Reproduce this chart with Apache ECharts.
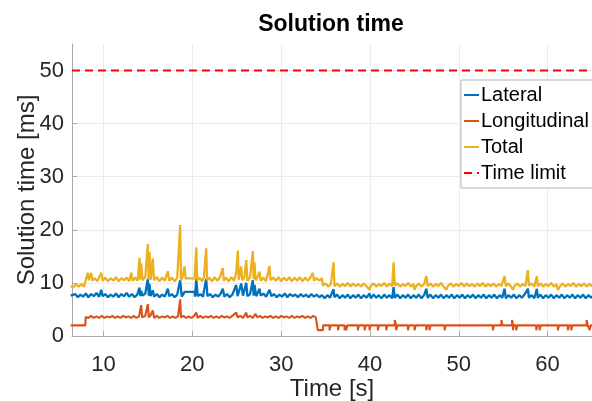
<!DOCTYPE html>
<html>
<head>
<meta charset="utf-8">
<script src="https://cdn.jsdelivr.net/npm/echarts@6/dist/echarts.min.js"></script>
<style>
  html, body { margin: 0; padding: 0; background: #fff; }
  #chart { width: 592px; height: 401px; }
</style>
</head>
<body>
<div id="chart"></div>
<script>
// solution time per controller, [time s, ms]
const lateral = [
  [6.3,7.6],[6.5,7.4],[6.8,7.9],[7.1,7.3],[7.4,7.8],[7.7,7.4],[8.0,8.0],[8.3,7.3],[8.6,7.9],[8.9,7.5],
  [9.2,8.1],[9.5,7.4],[9.74,8.7],[9.9,7.5],[10.2,7.9],[10.5,7.3],[10.8,7.8],[11.1,7.4],[11.4,8.0],[11.7,7.3],
  [12.0,7.9],[12.3,7.5],[12.6,8.1],[12.9,7.4],[13.2,7.9],[13.5,7.3],[13.8,7.8],[14.05,9.1],[14.15,7.5],[14.24,8.5],
  [14.4,7.6],[14.7,8.0],[14.99,10.8],[15.1,7.6],[15.18,9.8],[15.3,7.5],[15.55,8.6],[15.7,7.4],[16.0,7.9],[16.3,7.3],
  [16.6,7.8],[16.9,7.4],[17.24,8.9],[17.4,7.5],[17.7,7.9],[18.0,7.3],[18.3,7.8],[18.63,10.5],[18.8,7.4],[19.0,7.9],
  [19.1,8.3],[20.25,8.3],[20.3,7.4],[20.44,10.8],[20.6,7.5],[20.9,7.9],[21.2,7.4],[21.56,10.8],[21.7,7.5],[22.0,7.9],
  [22.3,7.3],[22.6,7.8],[22.9,7.4],[23.2,8.0],[23.43,8.9],[23.6,7.4],[23.9,7.9],[24.2,7.3],[24.5,7.8],[24.94,9.6],
  [25.1,7.5],[25.5,9.9],[25.7,7.6],[26.07,10.0],[26.2,7.5],[26.5,7.9],[26.81,10.5],[26.9,7.6],[27.0,9.6],[27.2,7.5],
  [27.56,8.9],[27.7,7.6],[28.0,8.0],[28.3,7.4],[28.69,8.7],[28.9,7.5],[29.2,7.9],[29.5,7.3],[29.8,7.8],[30.1,7.4],
  [30.4,8.0],[30.7,7.3],[31.0,7.9],[31.3,7.5],[31.6,7.8],[31.9,7.3],[32.2,7.9],[32.5,7.4],[32.8,7.8],[33.1,7.3],
  [33.4,7.9],[33.7,7.4],[34.0,7.8],[34.3,7.3],[34.6,7.7],[34.9,7.1],[35.2,7.7],[35.5,7.2],[35.9,8.8],[36.0,7.3],
  [36.3,7.8],[36.6,7.1],[36.9,7.7],[37.2,7.2],[37.5,7.8],[37.8,7.1],[38.1,7.7],[38.4,7.2],[38.7,7.8],[39.0,7.1],
  [39.3,7.7],[39.6,7.2],[39.95,8.0],[40.1,7.1],[40.4,7.8],[40.7,7.2],[41.0,7.7],[41.3,7.1],[41.6,7.8],[41.9,7.2],
  [42.2,7.7],[42.5,7.1],[42.66,9.2],[42.8,7.2],[43.1,7.8],[43.4,7.1],[43.7,7.7],[44.0,7.2],[44.3,7.8],[44.6,7.1],
  [44.9,7.7],[45.2,7.2],[45.5,7.8],[45.8,7.1],[46.1,7.7],[46.34,8.9],[46.5,7.2],[46.8,7.8],[47.1,7.1],[47.4,7.7],
  [47.7,7.2],[48.0,7.8],[48.3,7.1],[48.6,7.7],[48.9,7.2],[49.2,7.8],[49.5,7.1],[49.8,7.7],[50.1,7.2],[50.4,7.8],
  [50.7,7.1],[51.0,7.7],[51.3,7.2],[51.6,7.8],[51.9,7.1],[52.2,7.7],[52.5,7.2],[52.8,7.8],[53.1,7.1],[53.4,7.7],
  [53.7,7.2],[54.0,7.8],[54.3,7.1],[54.6,7.7],[54.9,7.2],[55.15,8.9],[55.3,7.1],[55.6,7.7],[55.9,7.2],[56.2,7.8],
  [56.5,7.1],[56.8,7.7],[57.1,7.2],[57.4,7.8],[57.78,8.9],[57.9,7.2],[58.2,7.7],[58.5,7.1],[58.79,8.9],[58.9,7.2],
  [59.2,7.8],[59.5,7.1],[59.8,7.7],[60.1,7.2],[60.4,7.8],[60.7,7.1],[61.0,7.7],[61.3,7.2],[61.6,7.8],[61.9,7.1],
  [62.2,7.7],[62.5,7.2],[62.8,7.8],[63.1,7.1],[63.4,7.7],[63.7,7.2],[64.0,7.8],[64.3,7.1],[64.6,7.7],[64.9,7.2],
  [65.2,7.7]
];

const longitudinalHead = [
  [6.3,2.0],[7.95,2.0],[8.0,3.6],[8.3,3.4],[8.6,3.8],[8.9,3.4],[9.2,3.7],[9.5,3.4],[9.8,3.8],[10.1,3.4],
  [10.4,3.7],[10.7,3.5],[11.0,3.8],[11.3,3.4],[11.6,3.7],[11.9,3.4],[12.2,3.8],[12.5,3.5],[12.8,3.7],[13.1,3.4],
  [13.4,3.8],[13.7,3.4],[14.0,3.7],[14.24,5.8],[14.35,3.5],[14.7,3.8],[14.99,6.0],[15.1,3.5],[15.3,3.9],[15.55,4.8],
  [15.7,3.4],[16.0,3.8],[16.3,3.4],[16.6,3.7],[16.9,3.5],[17.2,3.8],[17.5,3.4],[17.8,3.7],[18.1,3.4],[18.4,3.8],
  [18.63,6.9],[18.72,3.5],[19.0,3.8],[19.3,3.4],[19.6,3.7],[19.9,3.4],[20.2,3.8],[20.44,4.4],[20.6,3.4],[20.9,3.8],
  [21.2,3.4],[21.5,3.7],[21.8,3.5],[22.1,3.8],[22.4,3.4],[22.7,3.7],[23.0,3.4],[23.3,3.8],[23.6,3.5],[23.9,3.7],
  [24.2,3.4],[24.5,3.8],[24.94,4.4],[25.1,3.5],[25.4,3.8],[25.7,3.4],[26.07,4.4],[26.2,3.5],[26.5,3.8],[26.8,3.4],
  [27.1,4.2],[27.3,3.5],[27.6,3.8],[27.9,3.4],[28.2,3.7],[28.5,3.5],[28.8,3.8],[29.1,3.4],[29.4,3.7],[29.7,3.4],
  [30.0,3.8],[30.3,3.5],[30.6,3.7],[30.9,3.4],[31.2,3.8],[31.5,3.4],[31.8,3.7],[32.1,3.5],[32.4,3.8],[32.7,3.4],
  [33.0,3.7],[33.3,3.4],[33.6,3.8],[33.9,3.5],[34.1,3.6],[34.12,1.1],[34.7,1.1],[34.72,2.0]
];
// after 34.7 s the longitudinal time sits on 2 ms with single-sample jumps
const longitudinalBase = 2.0;
const longitudinalJumps = [
  [35.45,1.1],[36.4,1.1],[37.14,1.1],[37.33,1.1],[38.63,1.1],[39.39,1.1],[39.95,1.1],[40.89,1.1],[41.83,1.1],
  [42.8,3.0],[42.96,1.1],[44.27,1.1],[45.02,1.1],[46.34,1.1],[46.71,1.1],[48.4,1.1],[53.84,1.1],[54.8,3.0],
  [56.0,3.0],[56.09,1.1],[56.47,1.1],[58.72,1.1],[59.1,1.1],[61.16,1.1],[62.28,1.1],[62.66,1.1],[64.4,3.0],[64.73,1.1]
];
const longitudinalEnd = 65.2;

const total = [
  [6.3,9.4],[6.6,9.2],[6.9,9.7],[7.2,9.3],[7.5,9.8],[7.8,9.3],[8.0,10.6],[8.23,11.9],[8.35,10.5],[8.61,11.9],
  [8.75,10.4],[9.0,10.9],[9.3,10.3],[9.5,11.0],[9.74,11.9],[9.9,10.4],[10.2,11.0],[10.5,10.3],[10.8,10.9],[11.1,10.4],
  [11.4,11.1],[11.7,10.3],[12.0,10.9],[12.3,10.5],[12.6,11.0],[12.9,10.3],[13.12,11.9],[13.3,10.4],[13.6,11.0],[13.85,10.4],
  [14.05,14.7],[14.15,10.6],[14.24,13.7],[14.4,10.5],[14.7,11.1],[14.99,17.3],[15.08,10.6],[15.18,15.8],[15.3,10.5],[15.55,14.6],
  [15.68,10.5],[16.0,11.1],[16.3,10.3],[16.6,11.0],[16.9,10.4],[17.24,12.2],[17.4,10.4],[17.7,11.0],[18.0,10.3],[18.3,11.0],
  [18.63,20.9],[18.72,10.5],[18.9,11.1],[19.12,13.1],[19.25,10.8],[19.6,10.9],[20.0,10.8],[20.25,10.9],[20.44,16.7],[20.55,10.4],
  [20.8,11.0],[21.1,10.3],[21.3,11.1],[21.56,16.5],[21.66,10.5],[21.9,11.0],[22.2,10.3],[22.5,11.1],[22.8,10.4],[23.1,11.0],
  [23.43,12.8],[23.55,10.4],[23.8,11.0],[24.1,10.3],[24.4,11.1],[24.7,10.4],[24.94,12.0],[25.12,16.1],[25.22,10.6],[25.5,13.1],
  [25.62,10.5],[25.85,11.0],[26.07,14.3],[26.2,10.4],[26.5,11.1],[26.81,16.0],[26.9,10.7],[27.0,13.9],[27.12,10.5],[27.35,11.1],
  [27.56,12.1],[27.7,10.4],[28.0,11.0],[28.3,10.3],[28.69,13.2],[28.8,10.5],[29.1,11.0],[29.4,10.4],[29.7,11.1],[30.0,10.3],
  [30.3,11.0],[30.6,10.4],[30.9,11.1],[31.2,10.3],[31.5,11.0],[31.8,10.4],[32.1,11.1],[32.4,10.3],[32.7,11.0],[33.0,10.4],
  [33.3,11.0],[33.57,11.9],[33.7,10.4],[34.0,10.9],[34.3,10.4],[34.6,10.9],[34.7,9.5],[35.0,9.9],[35.3,9.3],[35.6,9.8],
  [35.9,13.9],[36.0,9.4],[36.3,9.9],[36.6,9.3],[36.9,9.8],[37.2,9.4],[37.5,10.0],[37.8,9.3],[38.1,9.9],[38.4,9.4],
  [38.7,9.8],[39.0,9.3],[39.3,9.9],[39.6,9.4],[39.95,8.7],[40.1,9.5],[40.4,9.9],[40.7,9.3],[41.0,9.8],[41.3,9.4],
  [41.6,10.0],[41.9,9.3],[42.2,9.9],[42.5,9.4],[42.66,13.9],[42.8,9.5],[43.1,9.9],[43.4,9.3],[43.7,9.8],[44.0,9.4],
  [44.3,10.0],[44.6,9.3],[44.9,9.8],[45.02,8.7],[45.2,9.4],[45.5,9.9],[45.8,9.3],[46.1,9.8],[46.34,11.3],[46.5,9.4],
  [46.8,9.9],[47.1,9.3],[47.4,9.8],[47.7,9.4],[48.0,10.0],[48.3,9.3],[48.59,8.7],[48.8,9.5],[49.1,9.9],[49.4,9.3],
  [49.7,9.8],[50.0,9.4],[50.3,10.0],[50.6,9.3],[50.9,9.9],[51.2,9.4],[51.5,9.8],[51.8,9.3],[52.1,9.9],[52.4,9.4],
  [52.7,10.0],[53.0,9.3],[53.3,9.8],[53.6,9.4],[53.9,9.9],[54.2,9.3],[54.5,9.8],[54.8,9.4],[55.15,11.3],[55.3,9.4],
  [55.6,9.9],[55.9,9.3],[56.09,8.7],[56.3,9.5],[56.6,9.9],[56.9,9.3],[57.2,9.8],[57.5,9.4],[57.78,12.4],[57.9,9.5],
  [58.2,9.9],[58.5,9.3],[58.79,11.3],[58.9,9.4],[59.2,9.9],[59.5,9.3],[59.8,9.8],[60.1,9.4],[60.4,10.0],[60.7,9.3],
  [61.0,9.8],[61.16,8.7],[61.4,9.4],[61.7,9.9],[62.0,9.3],[62.3,9.8],[62.6,9.4],[62.9,10.0],[63.2,9.3],[63.5,9.8],
  [63.8,9.4],[64.1,9.9],[64.4,9.3],[64.7,9.8],[65.0,9.4],[65.2,9.8]
];

const timeLimit = 50;
const xRange = [6.45, 65];
const yRange = [0, 55];
const seriesNames = ['Lateral', 'Longitudinal', 'Total', 'Time limit'];

// flat baseline with one-sample jumps (square pulses)
function pulses(start, end, base, jumps) {
  const out = [[start, base]];
  jumps.forEach(j => {
    out.push([j[0], base], [j[0], j[1]], [j[0] + 0.12, j[1]], [j[0] + 0.12, base]);
  });
  out.push([end, base]);
  return out;
}

const longitudinal = longitudinalHead.concat(
  pulses(longitudinalHead[longitudinalHead.length - 1][0], longitudinalEnd, longitudinalBase, longitudinalJumps)
);

const font = "'Liberation Sans', Arial, Helvetica, sans-serif";
const chart = echarts.init(document.getElementById('chart'));

chart.setOption({
  animation: false,
  backgroundColor: '#ffffff',
  textStyle: { fontFamily: font },
  title: {
    text: 'Solution time',
    left: 326,
    textAlign: 'center',
    top: 8,
    textStyle: { fontSize: 23, fontWeight: 'bold', color: '#000', fontFamily: font }
  },
  grid: { left: 72, right: 0, top: 44, bottom: 65, outerBoundsMode: 'none' },
  legend: {
    data: seriesNames,
    orient: 'vertical',
    left: 461,
    top: 80,
    padding: [2, 60, 2, 2],
    itemGap: 0,
    itemWidth: 15,
    itemHeight: 2,
    borderColor: '#b4b4b4',
    borderWidth: 1,
    backgroundColor: '#ffffff',
    textStyle: { fontSize: 20, color: '#000', lineHeight: 26, fontFamily: font, padding: [0, 0, 0, -3] }
  },
  xAxis: {
    type: 'value',
    min: xRange[0],
    max: xRange[1],
    name: 'Time [s]',
    nameLocation: 'middle',
    nameGap: 41,
    nameMoveOverlap: false,
    nameTextStyle: { fontSize: 24, color: '#262626', fontFamily: font },
    axisLine: { lineStyle: { color: '#a8a8a8', width: 1 } },
    axisTick: { inside: true, length: 5, lineStyle: { color: '#a8a8a8' } },
    axisLabel: { fontSize: 22, color: '#262626', margin: 18, showMinLabel: false, showMaxLabel: false },
    splitLine: { show: true, showMinLine: false, showMaxLine: false, lineStyle: { color: '#ebebeb', width: 1 } }
  },
  yAxis: {
    type: 'value',
    min: yRange[0],
    max: yRange[1],
    interval: 10,
    name: 'Solution time [ms]',
    nameLocation: 'middle',
    nameGap: 33,
    nameMoveOverlap: false,
    nameTextStyle: { fontSize: 24, color: '#262626', fontFamily: font },
    axisLine: { show: true, lineStyle: { color: '#a8a8a8', width: 1 } },
    axisTick: { show: true, inside: true, length: 5, lineStyle: { color: '#a8a8a8' } },
    axisLabel: { fontSize: 22, color: '#262626', margin: 8, showMaxLabel: false },
    splitLine: { show: true, showMinLine: false, showMaxLine: false, lineStyle: { color: '#ebebeb', width: 1 } }
  },
  series: [
    {
      name: seriesNames[0], type: 'line', data: lateral, symbol: 'none',
      lineStyle: { color: '#0072BD', width: 2.3 }, itemStyle: { color: '#0072BD' }
    },
    {
      name: seriesNames[1], type: 'line', data: longitudinal, symbol: 'none',
      lineStyle: { color: '#D95319', width: 2.1 }, itemStyle: { color: '#D95319' }
    },
    {
      name: seriesNames[2], type: 'line', data: total, symbol: 'none',
      lineStyle: { color: '#EDB120', width: 2.3 }, itemStyle: { color: '#EDB120' }
    },
    {
      name: seriesNames[3], type: 'line', symbol: 'none',
      data: [[xRange[0], timeLimit], [xRange[1], timeLimit]],
      lineStyle: { color: '#FF0000', width: 2, type: [8, 5] }, itemStyle: { color: '#FF0000' }
    }
  ]
});
</script>
</body>
</html>
